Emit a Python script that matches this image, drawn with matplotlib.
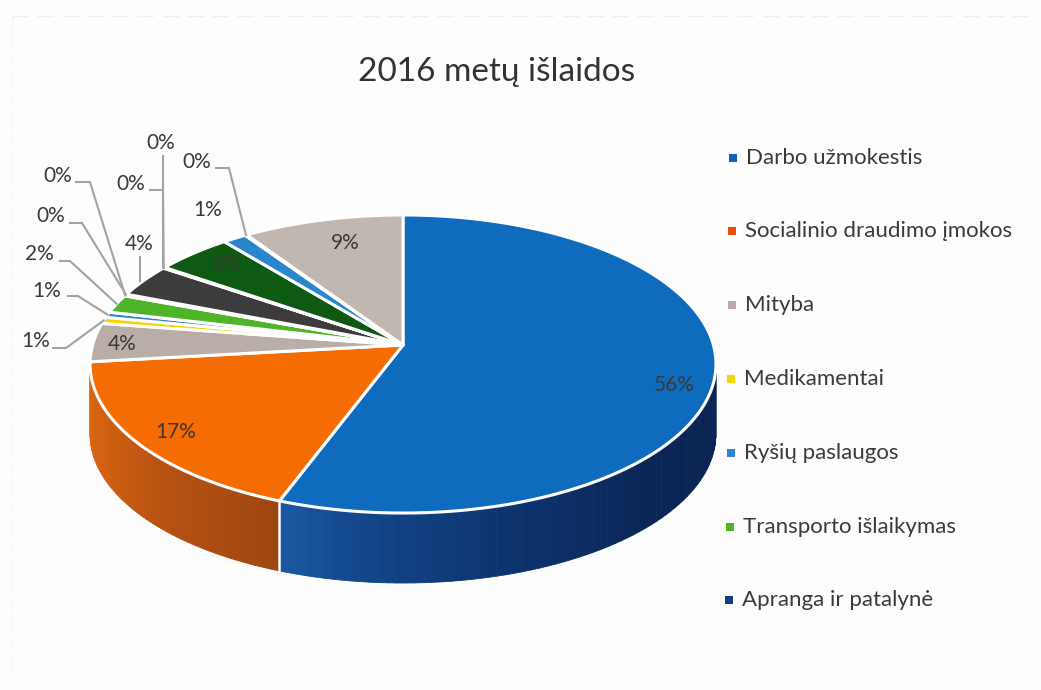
import numpy as np
import matplotlib
matplotlib.use("Agg")
import matplotlib.pyplot as plt
from matplotlib.patches import Polygon
from matplotlib.collections import PolyCollection

plt.rcParams['font.family'] = ['Lato', 'Noto Sans', 'DejaVu Sans']

# Slice shares, clockwise from the top.
values = [55.7, 17.5, 4.2, 0.7, 0.6, 2.0, 0.1, 0.1, 3.6, 0.05, 0.05, 4.5, 1.4, 0.1, 9.4]
labels = ['56%', '17%', '4%', '1%', '1%', '2%', '0%', '0%', '4%', '0%', '0%', '5%', '1%', '0%', '9%']
colors = ['#0f6bbd', '#f56c02', '#b9aea7', '#f6d300', '#2b85cf', '#4fb42a', '#123f7c', '#7a3a12',
          '#3b3c3b', '#8a8a8a', '#1d5f9e', '#0f5a12', '#2a86cc', '#f0a070', '#bfb7b0']

legend_names = ['Darbo užmokestis', 'Socialinio draudimo įmokos', 'Mityba', 'Medikamentai',
                'Ryšių paslaugos', 'Transporto išlaikymas', 'Apranga ir patalynė']
legend_colors = ['#0f62b5', '#ee4f0c', '#bda9ae', '#f6d300', '#2f86cf', '#4fb42a', '#123f7c']
legend_x = [733, 732, 732, 731, 731, 730, 729]
legend_y = [158, 231, 305, 379, 453, 527, 600]

# Label positions in pixels, and the elbow of the leader line (None = no leader).
label_xy = [(674, 385), (176, 432), (122, 344), (36, 341), (47, 291), (39, 254), (58, 176), (51, 216),
            (139, 244), (131, 184), (161, 143), (226, 264), (208, 210), (197, 162), (345, 243)]
leader_start = [None, None, None, (53, 348), (68, 296), (60, 261), (76, 182), (70, 223),
                (140, 257), (150, 190), (163, 156), None, None, (216, 168), None]
leader_elbow = [None, None, None, (66, 348), (78, 296), (70, 261), (90, 182), (82, 223),
                (140, 257), (163, 190), (163, 156), None, None, (229, 168), None]

cx, cy = 403, 345
R, S, k = 310.4, 146.6, 0.1275
depth = 70


def project(theta):
    u, v = np.sin(theta), np.cos(theta)
    return np.column_stack([cx + R * u / (1 + k * v), cy - S * v / (1 + k * v)])


def shade(theta, stops):
    deg = np.degrees(theta)
    rgb = [np.interp(deg, [s[0] for s in stops],
                     [matplotlib.colors.to_rgb(s[1])[i] for s in stops]) for i in range(3)]
    return tuple(rgb)


fig = plt.figure(figsize=(10.41, 6.9), dpi=100, facecolor='#fdfdfd')
ax = fig.add_axes([0, 0, 1, 1])
ax.set_xlim(0, 1041)
ax.set_ylim(690, 0)
ax.axis('off')

# faint scan edges
ax.plot([12, 1030], [16, 16], color='#efefef', lw=1, ls=(0, (12, 6)))
ax.plot([12, 12], [16, 670], color='#f4f4f4', lw=1, ls=(0, (8, 6)))

edges = np.radians(np.cumsum([0] + values) * 3.6)

# side wall
wall_from, wall_to = np.pi / 2 + np.arcsin(k), 3 * np.pi / 2 - np.arcsin(k)
blue_stops = [(97, '#0a2352'), (135, '#0a2656'), (165, '#0e3570'), (185, '#124488'), (201, '#1a5aa2')]
orange_stops = [(201, '#9e4610'), (225, '#b85212'), (245, '#d0600f'), (265, '#e2690f')]
for i, stops in [(0, blue_stops), (1, orange_stops)]:
    a = np.linspace(max(edges[i], wall_from), min(edges[i + 1], wall_to), 70)
    rim = project(a)
    quads = []
    cols = []
    for j in range(len(a) - 1):
        p, q = rim[j], rim[j + 1]
        quads.append([p, q, q + [0, depth], p + [0, depth]])
        cols.append(shade((a[j] + a[j + 1]) / 2, stops))
    ax.add_collection(PolyCollection(quads, facecolors=cols, edgecolors=cols, linewidths=0.6))

# white seam between the two walls
seam = project(np.array([edges[1]]))[0]
ax.plot([seam[0], seam[0]], [seam[1], seam[1] + depth], color='white', lw=1.8)

# top faces
for i, val in enumerate(values):
    a = np.linspace(edges[i], edges[i + 1], max(3, int(val * 8)))
    pts = np.vstack([[cx, cy], project(a)])
    ax.add_patch(Polygon(pts, closed=True, facecolor=colors[i], edgecolor='white', lw=2.2, joinstyle='round'))

# labels and leader lines
for i, lab in enumerate(labels):
    ax.text(label_xy[i][0], label_xy[i][1], lab, ha='center', va='center', fontsize=15, color='#3a3a3a')
    if leader_start[i] is not None:
        mid = (edges[i] + edges[i + 1]) / 2
        end = project(np.array([mid]))[0]
        # a leader without an elbow runs straight down onto the rim
        end_x = leader_start[i][0] if leader_start[i] == leader_elbow[i] else end[0]
        ax.plot([leader_start[i][0], leader_elbow[i][0], end_x],
                [leader_start[i][1], leader_elbow[i][1], end[1]],
                color='#a3a3a3', lw=1.5, solid_joinstyle='miter')

ax.text(497, 72, '2016 metų išlaidos', ha='center', va='center', fontsize=24, color='#333333')

# legend
for x, y, name, col in zip(legend_x, legend_y, legend_names, legend_colors):
    ax.scatter([x], [y], marker='s', s=34, color=col, linewidths=0)
    ax.text(x + 13, y, name, ha='left', va='center', fontsize=16, color='#3a3a3a')

fig.savefig('out.png', dpi=100, facecolor=fig.get_facecolor())
